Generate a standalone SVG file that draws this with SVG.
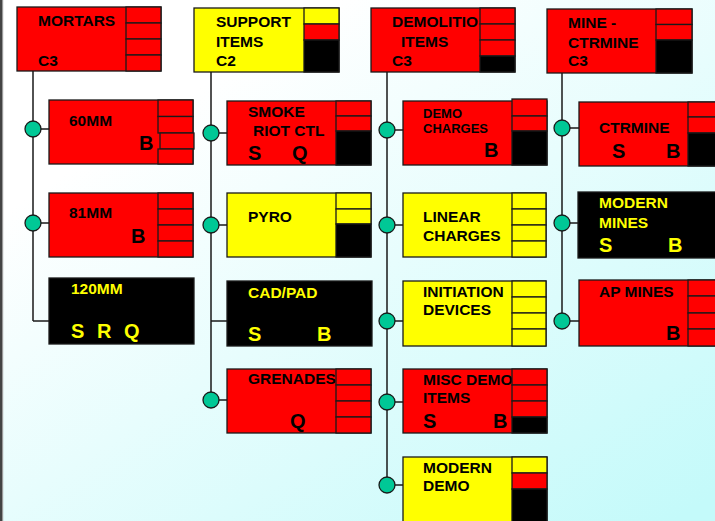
<svg xmlns="http://www.w3.org/2000/svg" width="715" height="521" viewBox="0 0 715 521">
<defs>
<linearGradient id="bg" x1="0.3" y1="0.15" x2="1" y2="0.95">
<stop offset="0" stop-color="#ffffff"/>
<stop offset="1" stop-color="#c4fafa"/>
</linearGradient>
</defs>
<style>
.box{stroke:#1a1a1a;stroke-width:1.3}
.r{fill:#ff0000}
.y{fill:#ffff00}
.k{fill:#000000}
.c{stroke:#1a1a1a;stroke-width:1.3}
.t{font-family:"Liberation Sans",Arial,sans-serif;font-weight:bold;font-size:15.5px;fill:#000}
.ts{font-family:"Liberation Sans",Arial,sans-serif;font-weight:bold;font-size:13px;fill:#000}
.tb{font-family:"Liberation Sans",Arial,sans-serif;font-weight:bold;font-size:20px;fill:#000}
.yl{fill:#ffff00}
.ln{stroke:#1a1a1a;stroke-width:1.5;fill:none}
.dot{fill:#00c896;stroke:#1a1a1a;stroke-width:1.3}
</style>
<rect x="0" y="0" width="715" height="521" fill="url(#bg)"/>
<rect x="0" y="0" width="2" height="521" fill="#444"/>
<rect x="2" y="0" width="1.2" height="521" fill="#999"/>

<g id="connectors">
<path class="ln" d="M33 71V321M33 129H49M33 223H49M33 321H49"/>
<path class="ln" d="M211 72V400M211 133H227M211 225H227M211 321H227M211 400H227"/>
<path class="ln" d="M387 72V485M387 130H403M387 225H403M387 321H403M387 402H403M387 485H403"/>
<path class="ln" d="M562 73V321M562 128H579M562 223H579M562 321H579"/>
<circle class="dot" cx="33" cy="129" r="8"/>
<circle class="dot" cx="33" cy="223" r="8"/>
<circle class="dot" cx="211" cy="133" r="8"/>
<circle class="dot" cx="211" cy="225" r="8"/>
<circle class="dot" cx="211" cy="400" r="8"/>
<circle class="dot" cx="387" cy="130" r="8"/>
<circle class="dot" cx="387" cy="225" r="8"/>
<circle class="dot" cx="387" cy="321" r="8"/>
<circle class="dot" cx="387" cy="402" r="8"/>
<circle class="dot" cx="387" cy="485" r="8"/>
<circle class="dot" cx="562" cy="128" r="8"/>
<circle class="dot" cx="562" cy="223" r="8"/>
<circle class="dot" cx="562" cy="321" r="8"/>
</g>

<g id="mortars">
<rect class="box r" x="17" y="7" width="144" height="64"/>
<text class="t" x="38" y="26">MORTARS</text>
<text class="t" x="38" y="66">C3</text>
<rect class="c r" x="126" y="7" width="35" height="16"/>
<rect class="c r" x="126" y="23" width="35" height="16"/>
<rect class="c r" x="126" y="39" width="35" height="16"/>
<rect class="c r" x="126" y="55" width="35" height="16"/>
</g>

<g id="support-items">
<rect class="box y" x="194" y="8" width="145" height="64"/>
<text class="t" x="216" y="27">SUPPORT</text>
<text class="t" x="216" y="47">ITEMS</text>
<text class="t" x="216" y="66">C2</text>
<rect class="c y" x="304" y="8" width="35" height="16"/>
<rect class="c r" x="304" y="24" width="35" height="16"/>
<rect class="c k" x="304" y="40" width="35" height="32"/>
</g>

<g id="demolition-items">
<rect class="box r" x="371" y="8" width="144" height="64"/>
<text class="t" x="392" y="27">DEMOLITIO</text>
<text class="t" x="401" y="47">ITEMS</text>
<text class="t" x="392" y="66">C3</text>
<rect class="c r" x="480" y="8" width="35" height="16"/>
<rect class="c r" x="480" y="24" width="35" height="16"/>
<rect class="c r" x="480" y="40" width="35" height="16"/>
<rect class="c k" x="480" y="56" width="35" height="16"/>
</g>

<g id="mine-ctrmine">
<rect class="box r" x="547" y="9" width="145" height="64"/>
<text class="t" x="568" y="28">MINE -</text>
<text class="t" x="568" y="48">CTRMINE</text>
<text class="t" x="568" y="66">C3</text>
<rect class="c r" x="656" y="9" width="36" height="15.5"/>
<rect class="c r" x="656" y="24.5" width="36" height="15.5"/>
<rect class="c k" x="656" y="40" width="36" height="33"/>
</g>

<g id="mm60">
<rect class="box r" x="49" y="100" width="144" height="64"/>
<text class="t" x="69" y="126">60MM</text>
<text class="tb" x="139" y="150">B</text>
<rect class="c r" x="158" y="100" width="35" height="16.5"/>
<rect class="c r" x="158" y="116.5" width="35" height="16.5"/>
<rect class="c r" x="160" y="133" width="34" height="16"/>
<rect class="c r" x="158" y="149" width="35" height="15"/>
</g>

<g id="mm81">
<rect class="box r" x="49" y="193" width="144" height="64"/>
<text class="t" x="69" y="218">81MM</text>
<text class="tb" x="131" y="243">B</text>
<rect class="c r" x="158" y="193" width="35" height="16"/>
<rect class="c r" x="158" y="209" width="35" height="16"/>
<rect class="c r" x="158" y="225" width="35" height="16"/>
<rect class="c r" x="158" y="241" width="35" height="16"/>
</g>

<g id="mm120">
<rect class="box k" x="49" y="278" width="145" height="66" stroke="#333"/>
<text class="t yl" x="71" y="294">120MM</text>
<text class="tb yl" y="338"><tspan x="71">S</tspan> <tspan x="97">R</tspan> <tspan x="124">Q</tspan></text>
</g>

<g id="smoke-riot-ctl">
<rect class="box r" x="227" y="101" width="144" height="64"/>
<text class="t" x="248" y="117">SMOKE</text>
<text class="t" x="253" y="136">RIOT CTL</text>
<text class="tb" x="248" y="160">S</text>
<text class="tb" x="292" y="160">Q</text>
<rect class="c r" x="336" y="101" width="35" height="15"/>
<rect class="c r" x="336" y="116" width="35" height="15"/>
<rect class="c k" x="336" y="131" width="35" height="34"/>
</g>

<g id="pyro">
<rect class="box y" x="227" y="193" width="144" height="64"/>
<text class="t" x="248" y="222">PYRO</text>
<rect class="c y" x="336" y="193" width="35" height="16"/>
<rect class="c y" x="336" y="209" width="35" height="15"/>
<rect class="c k" x="336" y="224" width="35" height="33"/>
</g>

<g id="cad-pad">
<rect class="box k" x="227" y="281" width="145" height="65" stroke="#333"/>
<text class="t yl" x="248" y="298">CAD/PAD</text>
<text class="tb yl" x="248" y="341">S</text>
<text class="tb yl" x="317" y="341">B</text>
</g>

<g id="grenades">
<rect class="box r" x="227" y="369" width="144" height="64"/>
<text class="t" x="248" y="384">GRENADES</text>
<text class="tb" x="290" y="428">Q</text>
<rect class="c r" x="336" y="369" width="35" height="16"/>
<rect class="c r" x="336" y="385" width="35" height="16"/>
<rect class="c r" x="336" y="401" width="35" height="16"/>
<rect class="c r" x="336" y="417" width="35" height="16"/>
</g>

<g id="demo-charges">
<rect class="box r" x="403" y="101" width="144" height="64"/>
<text class="ts" x="423" y="118">DEMO</text>
<text class="ts" x="423" y="133">CHARGES</text>
<text class="tb" x="484" y="157">B</text>
<rect class="c r" x="512" y="99" width="35" height="17"/>
<rect class="c r" x="512" y="116" width="35" height="15"/>
<rect class="c k" x="512" y="131" width="35" height="34"/>
</g>

<g id="linear-charges">
<rect class="box y" x="403" y="193" width="143" height="64"/>
<text class="t" x="423" y="222">LINEAR</text>
<text class="t" x="423" y="241">CHARGES</text>
<rect class="c y" x="512" y="193" width="34" height="16"/>
<rect class="c y" x="512" y="209" width="34" height="16"/>
<rect class="c y" x="512" y="225" width="34" height="16"/>
<rect class="c y" x="512" y="241" width="34" height="16"/>
</g>

<g id="initiation-devices">
<rect class="box y" x="403" y="281" width="143" height="65"/>
<text class="t" x="423" y="297">INITIATION</text>
<text class="t" x="423" y="315">DEVICES</text>
<rect class="c y" x="512" y="281" width="34" height="16"/>
<rect class="c y" x="512" y="297" width="34" height="16"/>
<rect class="c y" x="512" y="313" width="34" height="16"/>
<rect class="c y" x="512" y="329" width="34" height="17"/>
</g>

<g id="misc-demo-items">
<rect class="box r" x="403" y="369" width="144" height="64"/>
<text class="t" x="423" y="385">MISC DEMO</text>
<text class="t" x="423" y="403">ITEMS</text>
<text class="tb" x="423" y="428">S</text>
<text class="tb" x="493" y="428">B</text>
<rect class="c r" x="512" y="369" width="35" height="16"/>
<rect class="c r" x="512" y="385" width="35" height="16"/>
<rect class="c r" x="512" y="401" width="35" height="16"/>
<rect class="c k" x="512" y="417" width="35" height="16"/>
</g>

<g id="modern-demo">
<rect class="box y" x="403" y="457" width="144" height="68"/>
<text class="t" x="423" y="473">MODERN</text>
<text class="t" x="423" y="491">DEMO</text>
<rect class="c y" x="512" y="457" width="35" height="16"/>
<rect class="c r" x="512" y="473" width="35" height="16"/>
<rect class="c k" x="512" y="489" width="35" height="36"/>
</g>

<g id="ctrmine">
<rect class="box r" x="579" y="102" width="145" height="64"/>
<text class="t" x="599" y="133">CTRMINE</text>
<text class="tb" x="612" y="158">S</text>
<text class="tb" x="666" y="158">B</text>
<rect class="c r" x="688" y="102" width="36" height="15"/>
<rect class="c r" x="688" y="117" width="36" height="16"/>
<rect class="c k" x="688" y="133" width="36" height="33"/>
</g>

<g id="modern-mines">
<rect class="box k" x="578" y="192" width="146" height="66" stroke="#333"/>
<text class="t yl" x="599" y="208">MODERN</text>
<text class="t yl" x="599" y="228">MINES</text>
<text class="tb yl" x="599" y="252">S</text>
<text class="tb yl" x="668" y="252">B</text>
</g>

<g id="ap-mines">
<rect class="box r" x="579" y="280" width="145" height="66"/>
<text class="t" x="599" y="297">AP MINES</text>
<text class="tb" x="666" y="340">B</text>
<rect class="c r" x="688" y="280" width="36" height="16"/>
<rect class="c r" x="688" y="296" width="36" height="17"/>
<rect class="c r" x="688" y="313" width="36" height="16"/>
<rect class="c r" x="688" y="329" width="36" height="17"/>
</g>
</svg>
